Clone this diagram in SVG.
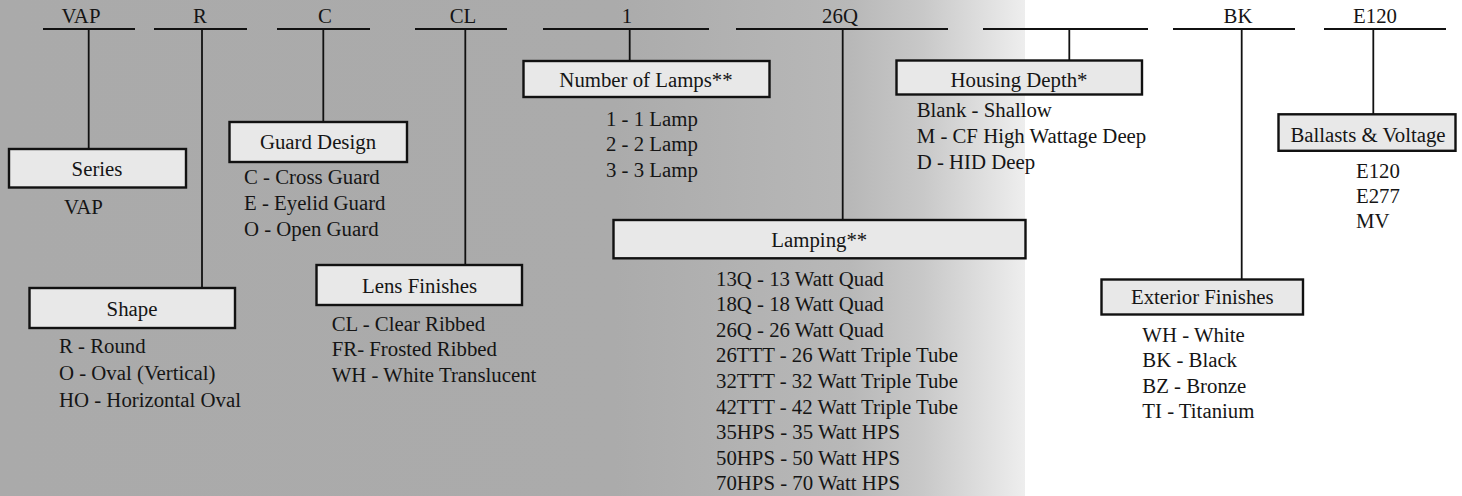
<svg xmlns="http://www.w3.org/2000/svg" width="1462" height="496" viewBox="0 0 1462 496">
  <defs>
    <linearGradient id="bg" gradientUnits="userSpaceOnUse" x1="0" y1="0" x2="1025" y2="0">
      <stop offset="0" stop-color="#aaaaaa"/>
      <stop offset="0.6" stop-color="#ababab"/>
      <stop offset="0.83" stop-color="#b8b8b8"/>
      <stop offset="0.9" stop-color="#c8c8c8"/>
      <stop offset="1" stop-color="#eeeeee"/>
    </linearGradient>
  </defs>
  <style>
    text { font-family: "Liberation Serif", "Times New Roman", serif; font-size: 20.8px; fill: #151515; }
    .c { text-anchor: middle; }
    .box { fill: #e8e8e8; stroke: #111111; stroke-width: 2.4; }
    .bar { stroke: #111111; stroke-width: 2.2; fill: none; }
    .stem { stroke: #111111; stroke-width: 1.8; fill: none; }
  </style>
  <rect x="0" y="0" width="1462" height="496" fill="#ffffff"/>
  <rect x="0" y="0" width="1025" height="496" fill="url(#bg)"/>

  <g id="code-labels">
    <text class="c" x="81" y="22.5">VAP</text>
    <text class="c" x="200" y="22.5">R</text>
    <text class="c" x="325" y="22.5">C</text>
    <text class="c" x="463" y="22.5">CL</text>
    <text class="c" x="627" y="22.5">1</text>
    <text class="c" x="840" y="22.5">26Q</text>
    <text class="c" x="1238" y="22.5">BK</text>
    <text class="c" x="1375" y="22.5">E120</text>
  </g>

  <g id="connectors">
    <line class="bar" x1="43" y1="29" x2="135" y2="29"/>
    <line class="stem" x1="88.7" y1="29" x2="88.7" y2="149"/>
    <line class="bar" x1="154" y1="29" x2="247" y2="29"/>
    <line class="stem" x1="202" y1="29" x2="202" y2="288"/>
    <line class="bar" x1="277" y1="29" x2="370" y2="29"/>
    <line class="stem" x1="323.3" y1="29" x2="323.3" y2="122"/>
    <line class="bar" x1="415" y1="29" x2="507" y2="29"/>
    <line class="stem" x1="465.3" y1="29" x2="465.3" y2="265"/>
    <line class="bar" x1="543" y1="29" x2="709" y2="29"/>
    <line class="stem" x1="629.7" y1="29" x2="629.7" y2="61"/>
    <line class="bar" x1="736" y1="29" x2="948" y2="29"/>
    <line class="stem" x1="842.7" y1="29" x2="842.7" y2="220"/>
    <line class="bar" x1="983" y1="29" x2="1148" y2="29"/>
    <line class="stem" x1="1069.3" y1="29" x2="1069.3" y2="60"/>
    <line class="bar" x1="1173" y1="29" x2="1295" y2="29"/>
    <line class="stem" x1="1241.7" y1="29" x2="1241.7" y2="279"/>
    <line class="bar" x1="1324" y1="29" x2="1446" y2="29"/>
    <line class="stem" x1="1373.3" y1="29" x2="1373.3" y2="114"/>
  </g>

  <g id="series">
    <rect class="box" x="9" y="149" width="177" height="38.5"/>
    <text class="c" x="97" y="176">Series</text>
    <text x="64" y="214">VAP</text>
  </g>

  <g id="shape">
    <rect class="box" x="29.5" y="288" width="205.5" height="40"/>
    <text class="c" x="132" y="316">Shape</text>
    <text x="59" y="353.3">R - Round</text>
    <text x="59" y="380">O - Oval (Vertical)</text>
    <text x="59" y="406.7">HO - Horizontal Oval</text>
  </g>

  <g id="guard-design">
    <rect class="box" x="229.5" y="122" width="177.5" height="40"/>
    <text class="c" x="318" y="149.3">Guard Design</text>
    <text x="244" y="184.3">C - Cross Guard</text>
    <text x="244" y="210">E - Eyelid Guard</text>
    <text x="244" y="235.7">O - Open Guard</text>
  </g>

  <g id="lens-finishes">
    <rect class="box" x="316.5" y="265" width="205.5" height="40"/>
    <text class="c" x="419.5" y="293.3">Lens Finishes</text>
    <text x="331.7" y="331.3">CL - Clear Ribbed</text>
    <text x="331.7" y="356.3">FR- Frosted Ribbed</text>
    <text x="331.7" y="381.7">WH - White Translucent</text>
  </g>

  <g id="number-of-lamps">
    <rect class="box" x="523.5" y="61" width="246" height="36"/>
    <text class="c" x="646" y="86.7">Number of Lamps**</text>
    <text x="606" y="126">1 - 1 Lamp</text>
    <text x="606" y="151">2 - 2 Lamp</text>
    <text x="606" y="176.5">3 - 3 Lamp</text>
  </g>

  <g id="lamping">
    <rect class="box" x="613.5" y="220" width="412" height="38.3"/>
    <text class="c" x="819.3" y="246.7">Lamping**</text>
    <text x="716" y="285.7">13Q - 13 Watt Quad</text>
    <text x="716" y="311.3">18Q - 18 Watt Quad</text>
    <text x="716" y="336.8">26Q - 26 Watt Quad</text>
    <text x="716" y="362.4">26TTT - 26 Watt Triple Tube</text>
    <text x="716" y="387.9">32TTT - 32 Watt Triple Tube</text>
    <text x="716" y="413.5">42TTT - 42 Watt Triple Tube</text>
    <text x="716" y="439">35HPS - 35 Watt HPS</text>
    <text x="716" y="464.6">50HPS - 50 Watt HPS</text>
    <text x="716" y="490">70HPS - 70 Watt HPS</text>
  </g>

  <g id="housing-depth">
    <rect class="box" x="896.5" y="60.5" width="245.5" height="34"/>
    <text class="c" x="1019" y="86.5">Housing Depth*</text>
    <text x="916.7" y="117.3">Blank - Shallow</text>
    <text x="916.7" y="143">M - CF High Wattage Deep</text>
    <text x="916.7" y="169">D - HID Deep</text>
  </g>

  <g id="exterior-finishes">
    <rect class="box" x="1101.5" y="279.5" width="201.5" height="35"/>
    <text class="c" x="1202.3" y="304.3">Exterior Finishes</text>
    <text x="1142.3" y="341.7">WH - White</text>
    <text x="1142.3" y="367">BK - Black</text>
    <text x="1142.3" y="392.5">BZ - Bronze</text>
    <text x="1142.3" y="417.7">TI - Titanium</text>
  </g>

  <g id="ballasts-voltage">
    <rect class="box" x="1278.5" y="114.3" width="177" height="36.5"/>
    <text class="c" x="1368" y="141.5">Ballasts &amp; Voltage</text>
    <text x="1356" y="178">E120</text>
    <text x="1356" y="202.7">E277</text>
    <text x="1356" y="228.3">MV</text>
  </g>
</svg>
